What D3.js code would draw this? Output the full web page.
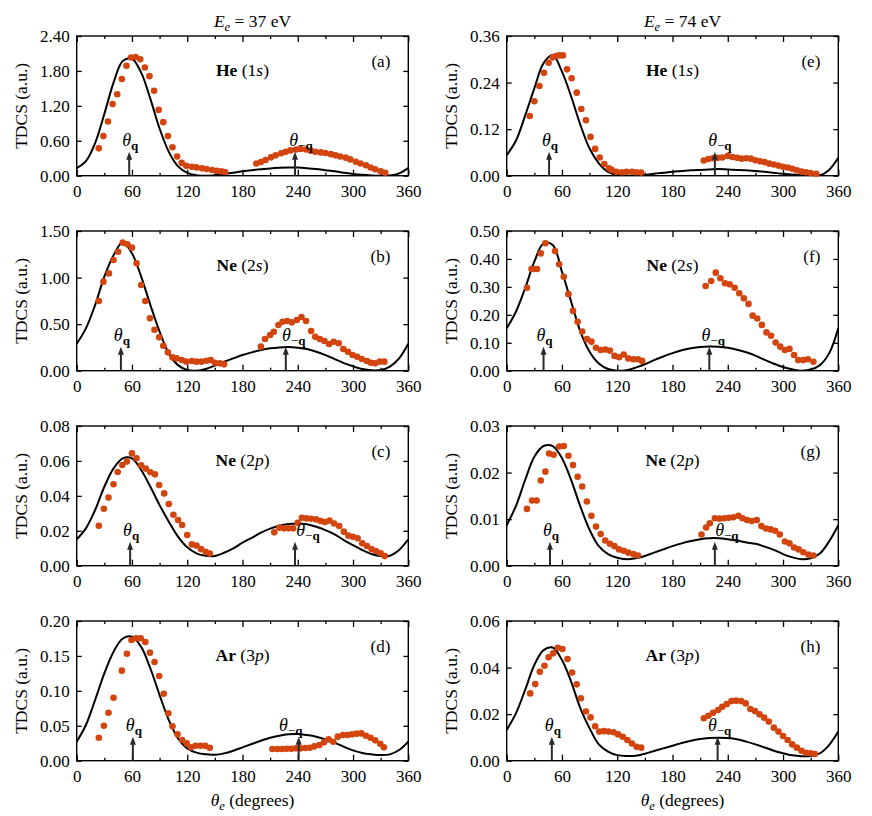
<!DOCTYPE html>
<html><head><meta charset="utf-8">
<script src="https://cdn.jsdelivr.net/npm/d3@7/dist/d3.min.js"></script>
<style>
body{margin:0;background:#fff}
svg text{font-family:"Liberation Serif","Times New Roman","Tinos","DejaVu Serif",serif !important;fill:#000}
</style>
</head><body>
<svg id="c" width="872" height="816"></svg>
<script>
// ---------------- DATA ----------------
const thetaGrid = [0,10,20,30,40,50,60,70,80,90,100,110,120,130,140,150,160,170,180,190,200,210,220,230,240,250,260,270,280,290,300,310,320,330,340,350,360];
const xMajorTicks = [0,60,120,180,240,300,360];
const xMinorTicks = [30,90,150,210,270,330];
const energyLabels = ["37","74"];

// (a) He 1s, 37 eV
const aExp = [[24,0.47],[29,0.68],[34,0.93],[39,1.23],[44,1.40],[49,1.66],[54,1.89],[59,2.03],[64,2.04],[69,2.00],[74,1.86],[79,1.71],[84,1.46],[89,1.13],[94,0.92],[99,0.68],[104,0.49],[109,0.33],[114,0.22],[119,0.17],[125,0.155],[130,0.143],[136,0.126],[141,0.115],[147,0.097],[152,0.086],[157,0.074],[161,0.063],
 [195,0.21],[200,0.235],[205,0.27],[211,0.315],[216,0.35],[222,0.385],[227,0.41],[232,0.435],[238,0.45],[243,0.46],[249,0.45],[254,0.43],[259,0.41],[265,0.40],[270,0.39],[276,0.37],[281,0.35],[286,0.33],[292,0.31],[297,0.28],[303,0.24],[308,0.21],[314,0.18],[319,0.14],[324,0.11],[330,0.075],[335,0.05]];
const aTh = [0.13,0.25,0.56,1.06,1.60,1.97,2.01,1.77,1.32,0.81,0.41,0.16,0.05,0.01,0.0,0.01,0.03,0.05,0.075,0.095,0.11,0.125,0.135,0.14,0.14,0.13,0.115,0.095,0.075,0.05,0.03,0.015,0.005,0.0,0.005,0.04,0.13];
const aQ = [57,237];

// (b) Ne 2s, 37 eV
const bExp = [[24,0.748],[29,0.956],[35,1.045],[40,1.189],[45,1.278],[50,1.375],[55,1.357],[60,1.321],[65,1.153],[70,0.92],[74.5,0.748],[79.5,0.562],[84.5,0.44],[89.5,0.358],[94,0.268],[99,0.197],[104,0.143],[108.5,0.132],[114,0.115],[119,0.097],[125,0.104],[130,0.097],[135.5,0.097],[141,0.107],[145.5,0.115],[150,0.086],[155.5,0.079],[160,0.068],
 [200,0.258],[204.5,0.34],[210,0.383],[214,0.419],[219,0.49],[223.5,0.526],[228.5,0.533],[233.5,0.519],[239,0.544],[244,0.576],[249,0.533],[254.5,0.426],[259,0.365],[264,0.34],[269,0.319],[274,0.286],[279,0.311],[284.5,0.294],[289.5,0.233],[294.5,0.204],[299.5,0.168],[304.5,0.150],[309.5,0.125],[315,0.104],[319.5,0.086],[324,0.079],[329,0.097],[334,0.097]];
const bTh = [0.29,0.455,0.705,1.01,1.24,1.38,1.26,1.01,0.705,0.42,0.186,0.06,0.007,0.0,0.018,0.054,0.097,0.132,0.168,0.197,0.222,0.24,0.25,0.254,0.247,0.233,0.204,0.168,0.125,0.082,0.047,0.018,0.004,0.007,0.043,0.132,0.29];
const bQ = [48,227];

// (c) Ne 2p, 37 eV
const cExp = [[24,0.0229],[29.5,0.0326],[34.5,0.039],[40,0.0466],[44.5,0.0537],[49.5,0.0577],[54.5,0.0596],[60,0.0643],[65,0.0615],[70,0.0575],[75,0.0556],[80,0.0535],[85,0.0523],[89.5,0.0462],[95,0.0414],[100,0.0353],[105,0.0292],[110,0.0262],[114.5,0.0233],[120,0.0176],[125,0.0122],[130,0.0115],[135,0.0095],[140,0.008],[144.5,0.007],
 [214.5,0.0191],[220,0.0218],[225,0.0214],[230,0.0214],[235,0.0214],[240,0.0246],[244.5,0.0275],[249.5,0.0271],[254.5,0.0269],[260,0.0265],[265,0.0256],[269.5,0.025],[274.5,0.0258],[279.5,0.0242],[285,0.0227],[290,0.0195],[295,0.0172],[300,0.0166],[305,0.0157],[310,0.0128],[315,0.0113],[320,0.0095],[325,0.0084],[330,0.0071],[334.5,0.0055]];
const cTh = [0.0151,0.0214,0.0319,0.0452,0.0557,0.0615,0.0615,0.0548,0.0452,0.0347,0.0252,0.0166,0.0105,0.0071,0.0057,0.0056,0.0074,0.0099,0.0132,0.016,0.0189,0.0212,0.0229,0.0239,0.0242,0.0237,0.0223,0.0204,0.018,0.0147,0.0118,0.009,0.0067,0.0055,0.0057,0.009,0.0151];
const cQ = [58,237];

// (d) Ar 3p, 37 eV
const dExp = [[24,0.0329],[29.5,0.0501],[34.5,0.0687],[40,0.0902],[49,0.1289],[54.5,0.1532],[59.5,0.1728],[64.5,0.1752],[69.5,0.1752],[74.5,0.17],[79.5,0.1547],[84.5,0.1413],[89.5,0.1212],[94.5,0.0959],[99.5,0.0678],[104,0.0492],[109.5,0.0377],[114.5,0.0296],[119.5,0.0248],[124,0.0191],[129,0.0215],[134.5,0.0215],[139.5,0.0215],[144.5,0.0186],
 [212.5,0.0167],[218,0.0167],[223,0.0167],[228,0.0172],[233,0.0172],[238,0.0177],[243,0.0177],[248,0.0181],[253,0.0186],[258,0.0205],[263.5,0.0224],[268.5,0.0263],[273.5,0.0305],[278.5,0.0272],[283.5,0.0344],[289,0.0367],[294,0.0367],[299,0.0377],[304,0.0387],[309,0.0391],[314,0.0358],[319,0.0329],[324,0.0291],[329.5,0.0243],[333.5,0.0191]];
const dTh = [0.0272,0.0511,0.0869,0.125,0.156,0.175,0.1776,0.163,0.132,0.094,0.058,0.032,0.0177,0.0115,0.0091,0.0086,0.0105,0.0143,0.0191,0.0239,0.0286,0.0329,0.0358,0.0377,0.0382,0.0367,0.0344,0.0305,0.0258,0.02,0.0148,0.011,0.0091,0.0081,0.0091,0.0153,0.0272];
const dQ = [61,241];

// (e) He 1s, 74 eV
const eExp = [[25,0.154],[30,0.192],[35.5,0.231],[40.5,0.265],[45.5,0.291],[50,0.305],[54,0.309],[57.5,0.310],[61,0.310],[65.5,0.274],[70.5,0.251],[76,0.214],[81,0.172],[86,0.143],[91,0.10],[96,0.069],[101,0.047],[106,0.030],[111,0.019],[114,0.015],[119,0.010],[125,0.009],[130,0.010],[136,0.010],[141,0.009],[146,0.008],
 [214,0.039],[219,0.043],[224,0.045],[229,0.046],[234,0.047],[240,0.051],[245,0.048],[250,0.046],[255,0.044],[260,0.045],[265,0.044],[270,0.040],[275,0.037],[280,0.035],[285,0.031],[290,0.029],[295,0.026],[300,0.023],[305,0.021],[310,0.018],[315,0.014],[320,0.011],[325,0.009],[330,0.007],[336,0.005]];
const eTh = [0.053,0.090,0.155,0.225,0.29,0.311,0.268,0.204,0.131,0.070,0.032,0.010,0.002,0.0,0.0,0.002,0.005,0.0075,0.010,0.012,0.014,0.015,0.016,0.017,0.016,0.015,0.014,0.012,0.010,0.0075,0.005,0.003,0.001,0.0,0.001,0.015,0.046];
const eQ = [46,226];

// (f) Ne 2s, 74 eV
const fExp = [[22,0.297],[27,0.364],[30,0.364],[33,0.364],[37,0.42],[42,0.456],[52.5,0.428],[57,0.381],[62,0.336],[67,0.274],[72,0.214],[77,0.175],[82,0.14],[87,0.113],[92,0.104],[97,0.082],[102,0.074],[107,0.076],[112,0.072],[117,0.053],[122,0.048],[127,0.058],[132,0.044],[137.5,0.041],[142.5,0.041],[147,0.035],
 [216,0.303],[222,0.321],[227,0.351],[232,0.331],[237,0.313],[242,0.309],[247.5,0.297],[252.5,0.277],[257.5,0.259],[262.5,0.239],[267,0.197],[272,0.187],[277,0.164],[282,0.137],[287,0.125],[292,0.101],[297,0.086],[302,0.074],[307,0.078],[312,0.056],[316.5,0.038],[322,0.038],[327,0.041],[333,0.032]];
const fTh = [0.152,0.211,0.295,0.39,0.456,0.45,0.354,0.247,0.14,0.068,0.026,0.006,0.0,0.002,0.011,0.023,0.038,0.051,0.063,0.073,0.08,0.085,0.087,0.086,0.082,0.075,0.066,0.054,0.039,0.025,0.013,0.005,0.0,0.004,0.02,0.062,0.152];
const fQ = [40,220];

// (g) Ne 2p, 74 eV
const gExp = [[22,0.0122],[27.5,0.014],[32.5,0.014],[37,0.0183],[42,0.0202],[46,0.0241],[51,0.0238],[57,0.0256],[62,0.0257],[67,0.0236],[72,0.0216],[77,0.0191],[82,0.017],[87,0.0138],[92,0.0107],[97,0.0084],[102,0.0068],[107,0.0054],[112,0.0047],[117,0.0042],[122,0.0035],[127,0.0032],[132,0.0028],[137.5,0.0025],[142.5,0.0022],
 [211.5,0.0067],[216.5,0.0082],[220.5,0.0091],[226,0.0102],[231,0.0101],[236,0.0102],[241,0.0103],[246,0.0104],[251.5,0.0107],[256,0.0102],[261,0.0098],[266,0.0096],[271.5,0.0098],[276.5,0.0085],[281.5,0.008],[286.5,0.0078],[291.5,0.0075],[296.5,0.0067],[302,0.0052],[307,0.0048],[312,0.0039],[317,0.0035],[322,0.0029],[327.5,0.0024],[333,0.0022]];
const gTh = [0.0087,0.0128,0.0184,0.0234,0.0257,0.0257,0.0231,0.0184,0.0127,0.0077,0.0042,0.0025,0.0017,0.0014,0.0016,0.0021,0.0028,0.0035,0.0042,0.0048,0.0053,0.0057,0.0059,0.0059,0.0057,0.0054,0.005,0.0047,0.0041,0.0034,0.0025,0.0018,0.0014,0.0016,0.0026,0.0052,0.0087];
const gQ = [47,226];

// (h) Ar 3p, 74 eV
const hExp = [[25.5,0.0289],[31,0.0329],[36,0.0382],[41,0.0408],[45.5,0.0444],[50.5,0.0461],[55.5,0.0485],[60.5,0.048],[66,0.0437],[71,0.0379],[76,0.0328],[80.5,0.0268],[86,0.0211],[91,0.0186],[96,0.0148],[100.5,0.0125],[105.5,0.0127],[110.5,0.0125],[116,0.0122],[121,0.0113],[126,0.0103],[131,0.0089],[136,0.0074],[141,0.006],[146,0.0056],
 [214,0.0182],[219,0.0193],[224,0.0206],[229.5,0.0218],[234,0.0232],[239,0.0243],[244,0.0256],[249,0.0258],[254.5,0.0256],[259.5,0.0246],[264.5,0.0222],[269.5,0.0213],[274.5,0.0199],[279.5,0.0185],[284.5,0.0168],[290,0.0142],[295,0.0125],[300,0.0106],[305,0.0089],[310,0.007],[315,0.0056],[320,0.0043],[325,0.0034],[330,0.0032],[334.5,0.0029]];
const hTh = [0.0132,0.0203,0.0304,0.0411,0.0475,0.0486,0.0432,0.0339,0.0225,0.0139,0.007,0.0039,0.0024,0.002,0.0021,0.003,0.0042,0.0053,0.0064,0.0076,0.0086,0.0093,0.0097,0.0099,0.0097,0.0092,0.0082,0.007,0.0057,0.0043,0.0032,0.0023,0.0019,0.002,0.0032,0.0067,0.0125];
const hQ = [49,229];

const panelLetters = ["a","b","c","d","e","f","g","h"];
const atoms = ["He","Ne","Ne","Ar","He","Ne","Ne","Ar"];
const orbitalN = ["1","2","2","3","1","2","2","3"];
const orbitalL = ["s","s","p","p","s","s","p","p"];
const yTickSets = [
  [0,0.6,1.2,1.8,2.4],[0,0.5,1.0,1.5],[0,0.02,0.04,0.06,0.08],[0,0.05,0.10,0.15,0.20],
  [0,0.12,0.24,0.36],[0,0.1,0.2,0.3,0.4,0.5],[0,0.01,0.02,0.03],[0,0.02,0.04,0.06]
];
const expSets = [aExp,bExp,cExp,dExp,eExp,fExp,gExp,hExp];
const thSets = [aTh,bTh,cTh,dTh,eTh,fTh,gTh,hTh];
const qSets = [aQ,bQ,cQ,dQ,eQ,fQ,gQ,hQ];

// ---------------- LAYOUT ----------------
const colX = [76.7, 506.7], rowY = [36, 231, 426, 621];
const W = 331.6, H = 139.7;
const minusLabelDx = [6,8,13,-8,5,4,12,2];
const dotColor = "#d2450f";
const arrowColor = "#2a2a2a";
const FS = 17;

const svg = d3.select("#c");

expSets.forEach((exp, i) => {
  const col = i < 4 ? 0 : 1, row = i % 4;
  const x0 = colX[col], y0 = rowY[row];
  const ticks = yTickSets[i];
  const ymax = ticks[ticks.length - 1];
  const g = svg.append("g").attr("transform", `translate(${x0},${y0})`);
  const x = d3.scaleLinear().domain([0, 360]).range([0, W]);
  const y = d3.scaleLinear().domain([0, ymax]).range([H, 0]);

  const cid = "clip" + i;
  g.append("clipPath").attr("id", cid).append("rect").attr("width", W).attr("height", H);

  const styleAxis = sel => {
    sel.attr("font-family", null);
    sel.select(".domain").remove();
    sel.selectAll("line").attr("stroke", "#000").attr("stroke-width", 1.3);
    sel.selectAll("text").attr("font-size", FS).attr("fill", "#000");
  };
  g.append("g").attr("transform", `translate(0,${H})`)
    .call(d3.axisBottom(x).tickValues(xMajorTicks).tickSizeInner(-6).tickSizeOuter(0).tickPadding(9).tickFormat(d3.format("d")))
    .call(styleAxis);
  g.append("g").attr("transform", `translate(0,${H})`)
    .call(d3.axisBottom(x).tickValues(xMinorTicks).tickSizeInner(-3).tickSizeOuter(0).tickFormat(""))
    .call(styleAxis);
  g.append("g")
    .call(d3.axisTop(x).tickValues(xMajorTicks).tickSizeInner(-6).tickSizeOuter(0).tickFormat(""))
    .call(styleAxis);
  g.append("g")
    .call(d3.axisTop(x).tickValues(xMinorTicks).tickSizeInner(-3).tickSizeOuter(0).tickFormat(""))
    .call(styleAxis);
  g.append("g")
    .call(d3.axisLeft(y).tickValues(ticks).tickSizeInner(-5).tickSizeOuter(0).tickPadding(7).tickFormat(d3.format(".2f")))
    .call(styleAxis);
  g.append("g").attr("transform", `translate(${W},0)`)
    .call(d3.axisRight(y).tickValues(ticks).tickSizeInner(-5).tickSizeOuter(0).tickFormat(""))
    .call(styleAxis);
  g.append("rect").attr("width", W).attr("height", H)
    .attr("fill", "none").attr("stroke", "#000").attr("stroke-width", 1.4);

  const th = thSets[i];
  const line = d3.line().x(d => x(d[0])).y(d => y(d[1])).curve(d3.curveCatmullRom.alpha(0.5));
  g.append("path").datum(thetaGrid.map((t, k) => [t, th[k]]))
    .attr("clip-path", `url(#${cid})`)
    .attr("d", line).attr("fill", "none").attr("stroke", "#000").attr("stroke-width", 2);

  g.append("g").selectAll("circle").data(exp).join("circle")
    .attr("cx", d => x(d[0])).attr("cy", d => y(d[1])).attr("r", 3.3).attr("fill", dotColor);

  qSets[i].forEach((ang, k) => {
    const ax = x(ang);
    g.append("line").attr("x1", ax).attr("x2", ax).attr("y1", H).attr("y2", H - 17)
      .attr("stroke", arrowColor).attr("stroke-width", 2);
    g.append("path").attr("d", `M${ax - 3},${H - 16} L${ax},${H - 24} L${ax + 3},${H - 16} Z`).attr("fill", arrowColor);
    const t = g.append("text").attr("x", ax + (k === 0 ? 1 : minusLabelDx[i])).attr("y", H - 29.5)
      .attr("text-anchor", "middle").attr("font-size", 18);
    t.append("tspan").attr("font-style", "italic").text("θ");
    if (k === 0) {
      t.append("tspan").attr("font-weight", "bold").attr("font-size", 13).attr("dy", 4).text("q");
    } else {
      t.append("tspan").attr("font-size", 13).attr("dy", 4).text("−");
      t.append("tspan").attr("font-weight", "bold").attr("font-size", 13).text("q");
    }
  });

  g.append("text").attr("x", W - 18).attr("y", 30.5).attr("text-anchor", "end")
    .attr("font-size", FS).text(`(${panelLetters[i]})`);

  const sp = g.append("text").attr("x", W / 2).attr("y", 40).attr("text-anchor", "middle").attr("font-size", 17.5);
  sp.append("tspan").attr("font-weight", "bold").text(atoms[i]);
  sp.append("tspan").text(" (" + orbitalN[i]);
  sp.append("tspan").attr("font-style", "italic").text(orbitalL[i]);
  sp.append("tspan").text(")");

  svg.append("text").attr("transform", `translate(${x0 - 50},${y0 + H / 2}) rotate(-90)`)
    .attr("text-anchor", "middle").attr("font-size", 17.5).text("TDCS (a.u.)");

  if (row === 3) {
    const xt = svg.append("text").attr("x", x0 + W / 2 + 10).attr("y", y0 + H + 45)
      .attr("text-anchor", "middle").attr("font-size", 17.5);
    xt.append("tspan").attr("font-style", "italic").text("θ");
    xt.append("tspan").attr("font-style", "italic").attr("font-size", 12.5).attr("dy", 4).text("e");
    xt.append("tspan").attr("dy", -4).text(" (degrees)");
  }
  if (row === 0) {
    const ht = svg.append("text").attr("x", x0 + W / 2 + 10).attr("y", 27)
      .attr("text-anchor", "middle").attr("font-size", 17.5);
    ht.append("tspan").attr("font-style", "italic").text("E");
    ht.append("tspan").attr("font-style", "italic").attr("font-size", 12.5).attr("dy", 4).text("e");
    ht.append("tspan").attr("dy", -4).text(` = ${energyLabels[col]} eV`);
  }
});
</script>
</body></html>
